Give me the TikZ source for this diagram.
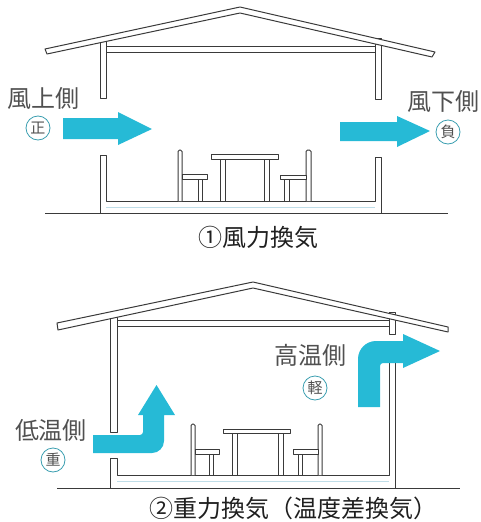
\documentclass[tikz,border=0pt]{standalone}
\usepackage{fontspec}
\newfontfamily\jpfont{Noto Sans CJK JP}
\definecolor{linegray}{HTML}{3A3A3A}
\definecolor{labelgray}{HTML}{505050}
\definecolor{flowcyan}{HTML}{26BAD6}
\definecolor{signteal}{HTML}{3A9EB0}
\definecolor{slabblue}{HTML}{BFDDE8}
\begin{document}
\begin{tikzpicture}[x=1pt,y=-1pt,
  line/.style={draw=linegray, line width=1pt, line join=round},
  part/.style={line, fill=white},
  flow/.style={fill=flowcyan, draw=none},
  sidelabel/.style={text=labelgray, font=\jpfont\fontsize{24}{28}\selectfont, inner sep=0pt},
  sign/.style={circle, draw=signteal, line width=0.8pt, minimum size=24pt, inner sep=0pt,
    text=labelgray, font=\jpfont\fontsize{15}{17}\selectfont},
  caption/.style={text=black!88, font=\jpfont\fontsize{24}{28}\selectfont, inner sep=0pt}]
\useasboundingbox (0,0) rectangle (480,522);

% ===================== wind-driven ventilation =====================
% walls (upper parts) and ceiling
\draw[part] (100,38) rectangle (106,98);
\draw[part] (375,38) rectangle (381,99);
\draw[part] (106,46) rectangle (375,52);
% roof
\draw[part] (45,49) -- (240,7) -- (435,52) -- (432,57) -- (240,13) -- (47,54) -- cycle;
% lower walls with floor
\draw[part] (100,155) -- (106,155) -- (106,201) -- (375,201) -- (375,157) -- (381,157)
  -- (381,213) -- (100,213) -- cycle;
\draw[line, slabblue, line width=0.6pt] (106,207) -- (375,207);
\draw[line] (45,213) -- (448,213);
% table and chairs
\draw[part] (220,159) rectangle (225,201);
\draw[part] (264,159) rectangle (269,201);
\draw[part] (211,154) rectangle (278,159);
\draw[part, rounded corners=1.5pt] (178,201) -- (178,150) -- (182,150) -- (182,201);
\draw[part] (198,179) rectangle (202,201);
\draw[part] (182,174) rectangle (207,179);
\draw[part, rounded corners=1.5pt] (306,201) -- (306,150) -- (311,150) -- (311,201);
\draw[part] (284,179) rectangle (289,201);
\draw[part] (280,175) rectangle (306,179);
% air flow
\fill[flow] (63,118) -- (118,118) -- (118,112) -- (152,129) -- (118,145) -- (118,139)
  -- (63,139) -- cycle;
\fill[flow] (340,122) -- (397,122) -- (397,116) -- (430,131) -- (397,147) -- (397,141)
  -- (340,141) -- cycle;
% labels
\node[sidelabel] (windward) at (44,98) {風上側};
\node[sign] (positive) at (38,128) {正};
\node[sidelabel, anchor=west] (leeward) at (407,101) {風下側};
\node[sign] (negative) at (448,132) {負};
\node[caption] (capwind) at (258,237) {①風力換気};

% ===================== stack (temperature-difference) ventilation =====================
% walls (upper parts) and ceiling
\draw[part] (110,312) rectangle (117,432);
\draw[part] (389,312) rectangle (395,334);
\draw[part] (117,320) rectangle (389,326);
% roof
\draw[part] (57,323) -- (253,282) -- (448,327) -- (448,332) -- (253,288) -- (58,330) -- cycle;
% lower walls with floor
\draw[part] (110,458) -- (117,458) -- (117,475) -- (389,475) -- (389,362) -- (395,362)
  -- (395,488) -- (110,488) -- cycle;
\draw[line, slabblue, line width=0.6pt] (117,481) -- (389,481);
\draw[line] (57,488) -- (460,488);
% table and chairs
\draw[part] (232,433) rectangle (237,475);
\draw[part] (278,433) rectangle (283,475);
\draw[part] (223,429) rectangle (290,433);
\draw[part, rounded corners=1.5pt] (191,475) -- (191,424) -- (195,424) -- (195,475);
\draw[part] (209,454) rectangle (213,475);
\draw[part] (195,449) rectangle (219,454);
\draw[part, rounded corners=1.5pt] (318,475) -- (318,424) -- (322,424) -- (322,475);
\draw[part] (298,454) rectangle (302,475);
\draw[part] (293,449) rectangle (318,454);
% air flow: cool air in low, warm air out high
\fill[flow] (93,435) [rounded corners=3pt] -- (143,435) [sharp corners] -- (143,415)
  -- (138,415) -- (156.5,385) -- (175,415) -- (164,415)
  [rounded corners=12pt] -- (164,453) [sharp corners] -- (93,453) -- cycle;
\fill[flow] (358,407) [rounded corners=18pt] -- (358,341) [sharp corners] -- (403,341)
  -- (403,334) -- (440,351) -- (403,368) -- (403,363) [rounded corners=3pt] -- (380,363)
  [sharp corners] -- (380,407) -- cycle;
% labels
\node[sidelabel] (warmside) at (310,355) {高温側};
\node[sign] (light) at (315,388) {軽};
\node[sidelabel] (coolside) at (51,430) {低温側};
\node[sign] (heavy) at (53,460) {重};
\node[caption] (capstack) at (293,508) {②重力換気（温度差換気）};
\end{tikzpicture}
\end{document}
